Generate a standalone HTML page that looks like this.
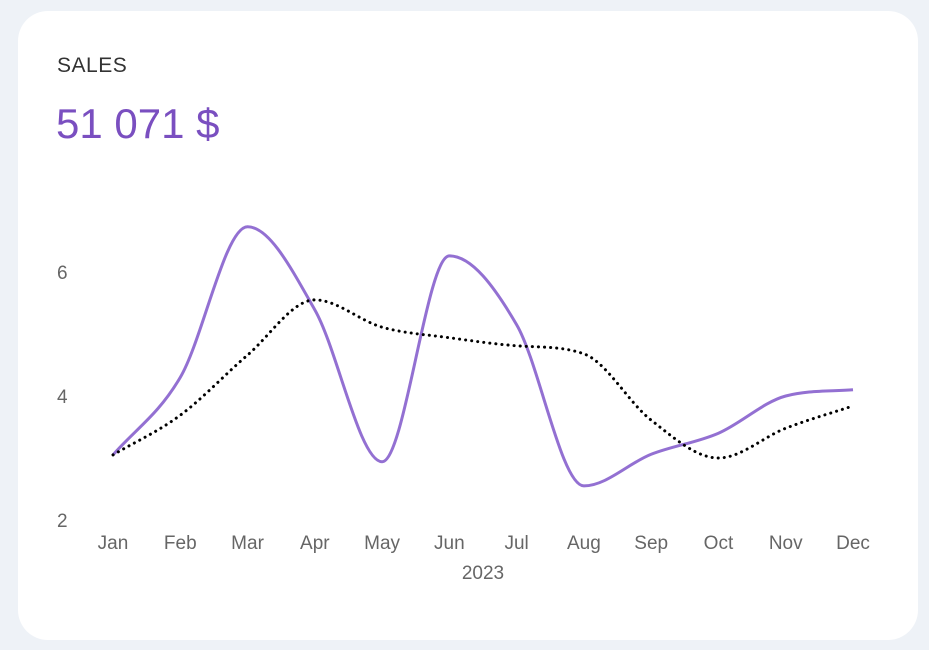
<!DOCTYPE html>
<html><head><meta charset="utf-8"><style>
body{margin:0;width:929px;height:650px;background:#eef2f7;font-family:"Liberation Sans",sans-serif;overflow:hidden}
.card{position:absolute;left:18px;top:11px;width:900px;height:629px;background:#fff;border-radius:30px}
.t{position:absolute;left:57px;top:54px;font-size:21px;color:#333;letter-spacing:0.5px}
.v{position:absolute;left:56px;top:100px;font-size:42px;color:#7a4fc0}
svg{position:absolute;left:0;top:0}
text{font-family:"Liberation Sans",sans-serif;font-size:19px;fill:#666}
</style></head><body>
<div class="card"></div>
<div class="t">SALES</div>
<div class="v">51 071 $</div>
<svg id="c" width="929" height="650"></svg>
<script>
const months=["Jan","Feb","Mar","Apr","May","Jun","Jul","Aug","Sep","Oct","Nov","Dec"];
const sales=[3.05,4.3,6.73,5.39,2.94,6.26,5.15,2.55,3.06,3.4,4.0,4.1];
const target=[3.05,3.69,4.66,5.55,5.11,4.94,4.81,4.68,3.61,3.0,3.48,3.84];
const yTicks=[2,4,6];
const yearLabel="2023";
const svg=document.getElementById('c');
const NS="http://www.w3.org/2000/svg";
const x=i=>113+i*(853-113)/(months.length-1);
const y=v=>520-(v-2)*62;
function mk(t,a){const e=document.createElementNS(NS,t);for(const k in a)e.setAttribute(k,a[k]);svg.appendChild(e);return e;}
yTicks.forEach(t=>{const e=mk('text',{x:57,y:y(t)+7});e.textContent=t;

});
months.forEach((m,i)=>{const e=mk('text',{x:x(i),y:549,'text-anchor':'middle'});e.textContent=m;

});
const yl=mk('text',{x:483,y:579,'text-anchor':'middle'});yl.textContent=yearLabel;


function mono(vals){
 const n=vals.length,xs=vals.map((_,i)=>x(i)),ys=vals.map(y);
 const d=[],m=[];for(let i=0;i<n-1;i++)d.push((ys[i+1]-ys[i])/(xs[i+1]-xs[i]));
 m[0]=d[0];m[n-1]=d[n-2];
 for(let i=1;i<n-1;i++){m[i]=d[i-1]*d[i]<=0?0:(d[i-1]+d[i])/2;}
 for(let i=0;i<n-1;i++){if(d[i]===0){m[i]=m[i+1]=0;continue;}const a=m[i]/d[i],b=m[i+1]/d[i],s=a*a+b*b;if(s>9){const t=3/Math.sqrt(s);m[i]=t*a*d[i];m[i+1]=t*b*d[i];}}
 let p=`M${xs[0]},${ys[0]}`;
 for(let i=0;i<n-1;i++){const h=(xs[i+1]-xs[i])/3;p+=` C${xs[i]+h},${ys[i]+m[i]*h} ${xs[i+1]-h},${ys[i+1]-m[i+1]*h} ${xs[i+1]},${ys[i+1]}`;}
 return p;}
const l1=mk('path',{d:mono(sales),fill:'none',stroke:'#9370d2','stroke-width':3});


const l2=mk('path',{d:mono(target),fill:'none',stroke:'#000','stroke-width':3,'stroke-dasharray':'0.1 6','stroke-linecap':'round'});


</script>
</body></html>
